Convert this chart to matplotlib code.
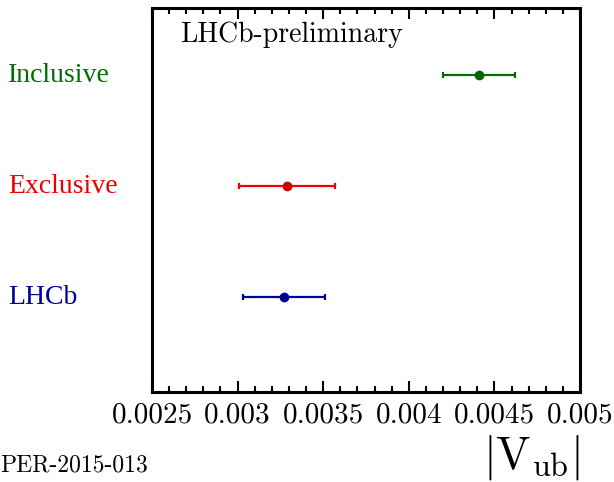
import matplotlib
matplotlib.use("Agg")
import matplotlib.pyplot as plt
from matplotlib.ticker import MultipleLocator
from matplotlib.transforms import blended_transform_factory

# |Vub| determinations
names = ["LHCb", "Exclusive", "Inclusive"]
values = [0.00327, 0.00329, 0.00441]
err_lo = [0.00024, 0.00028, 0.00021]
err_hi = [0.00024, 0.00028, 0.00021]
colors = ["#000099", "#ee0000", "#006e00"]
marker_colors = ["#000099", "#cc0000", "#006600"]
ticks = [0.0025, 0.003, 0.0035, 0.004, 0.0045, 0.005]
tick_labels = ["0.0025", "0.003", "0.0035", "0.004", "0.0045", "0.005"]

plt.rcParams['mathtext.fontset'] = 'cm'

fig = plt.figure(figsize=(6.14, 4.82), dpi=100)
ax = fig.add_axes([0.2476, 0.1867, 0.697, 0.7967])

for i, (v, lo, hi, c, mc) in enumerate(zip(values, err_lo, err_hi, colors, marker_colors)):
    ax.errorbar(v, i + 1, xerr=[[lo], [hi]], fmt='o', color=c, ms=6,
                mfc=mc, mec=mc, elinewidth=1.6, capsize=2.5, capthick=1.6)

ax.set_xlim(0.0025, 0.005)
ax.set_ylim(0.144, 3.604)
ax.set_yticks([])
ax.set_xticks(ticks)
ax.set_xticklabels(tick_labels, family='cmr10', fontsize=21)
ax.xaxis.set_minor_locator(MultipleLocator(0.0001))
ax.tick_params(axis='x', which='both', direction='in', top=True, pad=7)
ax.tick_params(axis='x', which='major', length=8, width=1.5)
ax.tick_params(axis='x', which='minor', length=4, width=1.5)
for sp in ax.spines.values():
    sp.set_linewidth(2.2)

trans = blended_transform_factory(fig.transFigure, ax.transData)
for i, (n, c) in enumerate(zip(names, colors)):
    ax.text(8 / 614, i + 1, n, transform=trans, color=c,
            family='Liberation Serif', fontsize=20, va='center', ha='left')

ax.text(0.065, 0.965, "LHCb-preliminary", transform=ax.transAxes,
        family='cmr10', fontsize=20, va='top', ha='left')

fig.text(0.9446, 0.0, r'$|\mathrm{V}_{\mathrm{ub}}|$', fontsize=33,
         ha='right', va='bottom')
fig.text(0.0, 0.012, "PER-2015-013", family='cmr10',
         fontsize=17, ha='left', va='bottom')

fig.savefig("out.png", dpi=100)
